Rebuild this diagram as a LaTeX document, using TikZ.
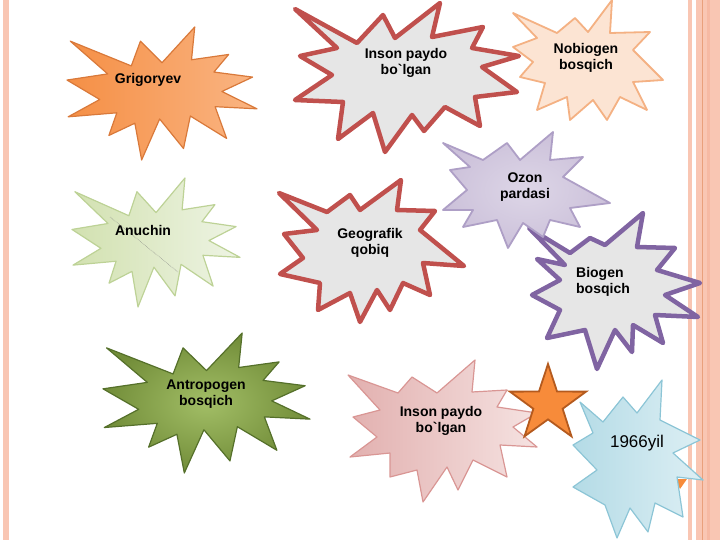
\documentclass[tikz,border=0pt]{standalone}
\usepackage{fontspec}
\setmainfont{Liberation Sans}
\usepackage{tikz}
\usetikzlibrary{shapes.geometric}

\definecolor{stripe}{HTML}{F9C6B3}
\definecolor{stripeline}{HTML}{E9A07C}
\definecolor{stripedark}{HTML}{F6B9A3}
\definecolor{sealgray}{HTML}{E6E6E6}
\definecolor{sealred}{HTML}{C0504D}
\definecolor{sealpurple}{HTML}{8064A2}
\definecolor{grigdark}{HTML}{F58F45}
\definecolor{griglight}{HTML}{FAB583}
\definecolor{grigline}{HTML}{D9793A}
\definecolor{anudark}{HTML}{D2E1B0}
\definecolor{anulight}{HTML}{EEF4E4}
\definecolor{anuline}{HTML}{BDD296}
\definecolor{antdark}{HTML}{728D39}
\definecolor{antlight}{HTML}{A2BE66}
\definecolor{antline}{HTML}{55702A}
\definecolor{nobfill}{HTML}{FCE4D3}
\definecolor{nobline}{HTML}{F4B183}
\definecolor{ozonfill}{HTML}{CCC1DA}
\definecolor{ozonlight}{HTML}{DDD6E7}
\definecolor{ozonline}{HTML}{AE9FC6}
\definecolor{pinkdark}{HTML}{E2B0AF}
\definecolor{pinklight}{HTML}{F5E2E1}
\definecolor{pinkline}{HTML}{D99694}
\definecolor{bluedark}{HTML}{B4DBE6}
\definecolor{bluelight}{HTML}{DDEFF4}
\definecolor{blueline}{HTML}{8CC5D6}
\definecolor{starfill}{HTML}{F78B3A}
\definecolor{starline}{HTML}{B45A1E}

\newcommand{\explosionpath}{(108,58) -- (145.22,0) -- (141.55,53.25) -- (183.8,44.57) -- (167.02,73.15) -- (210.97,81.37) -- (176.07,104.75) -- (216,132.9) -- (168.37,129.42) -- (181.45,180.95) -- (140.2,144.57) -- (132.47,197.37) -- (105.32,149.35) -- (84.85,216) -- (77.15,156.27) -- (47.62,176.17) -- (56.67,139.37) -- (1.35,145.87) -- (37.22,117.75) -- (0,86.15) -- (46.27,76.17) -- (3.7,22.95) -- (73.12,63.2) -- (83.52,22.95) -- cycle}

\begin{document}
\begin{tikzpicture}[x=1pt,y=-1pt]
  \tikzstyle{lbl} = [align=center, inner sep=0pt, font=\fontsize{14}{15.5}\selectfont\bfseries]
  \tikzstyle{redseal} = [fill=sealgray, draw=sealred, line width=4.5pt, line join=round]
  \tikzstyle{thinseal} = [line width=1.2pt, line join=round]

  \useasboundingbox (0,0) rectangle (720,540);

  \fill[stripe] (3,0) rectangle (9,540);
  \fill[stripe] (688,0) rectangle (692,540);
  \fill[stripe] (696,0) rectangle (720,540);
  \fill[stripedark] (707,0) rectangle (710,540);
  \fill[stripeline] (702,0) rectangle (703,540);

  \begin{scope}[shift={(67,27)}, xscale=0.8796, yscale=0.6157]
    \path[thinseal, draw=grigline, left color=grigdark, right color=griglight] \explosionpath;
  \end{scope}

  \path[thinseal, draw=nobline, fill=nobfill, line width=1.8pt]
    (513,13) -- (557,33) -- (575,18) -- (588,32) -- (612,0) -- (610,33) -- (650,32) -- (633,50)
    -- (663,80) -- (633,82) -- (647,110) -- (620,97) -- (607,120) -- (593,100) -- (570,120)
    -- (567,97) -- (537,110) -- (545,83) -- (520,77) -- (533,62) -- (513,47) -- (537,38) -- cycle;

  \path[redseal]
    (295,9) -- (357,43) -- (383,15) -- (395,38) -- (440,3) -- (432,37) -- (483,27) -- (472,48)
    -- (519,56) -- (482,67) -- (517,92) -- (475,97) -- (480,126) -- (445,107) -- (424,131)
    -- (412,115) -- (385,152) -- (373,113) -- (338,139) -- (343,102) -- (295,100) -- (332,75)
    -- (300,56) -- (337,48) -- cycle;

  \begin{scope}[shift={(72,178)}, xscale=0.7778, yscale=0.5972]
    \path[thinseal, draw=anuline, left color=anudark, right color=anulight] \explosionpath;
  \end{scope}
  \coordinate (anuA) at (110,217);
  \coordinate (anuB) at (178,272);
  \draw[gray, densely dotted, line width=0.5pt] (anuA) -- (anuB);

  \path[redseal]
    (279,193) -- (327,212) -- (350,195) -- (360,210) -- (401,180) -- (397,210) -- (435,211)
    -- (420,230) -- (464,266) -- (423,263) -- (430,295) -- (403,283) -- (390,310) -- (377,290)
    -- (360,322) -- (350,293) -- (318,310) -- (320,283) -- (280,274) -- (303,258) -- (284,234)
    -- (317,230) -- cycle;

  \path[redseal, draw=sealpurple]
    (529,228) -- (570,253) -- (590,238) -- (605,245) -- (643,213) -- (637,247) -- (675,248)
    -- (657,270) -- (700,283) -- (665,295) -- (698,317) -- (655,315) -- (663,343) -- (633,325)
    -- (632,352) -- (615,330) -- (597,369) -- (585,330) -- (547,338) -- (560,310) -- (532,295)
    -- (560,280) -- (537,259) -- (565,265) -- cycle;

  \path[thinseal, draw=ozonline, line width=1.8pt, inner color=ozonlight, outer color=ozonfill]
    (443,143) -- (483,160) -- (507,143) -- (520,160) -- (553,132) -- (550,160) -- (583,157)
    -- (563,177) -- (610,203) -- (570,208) -- (580,227) -- (550,220) -- (543,237) -- (523,223)
    -- (508,248) -- (497,220) -- (463,227) -- (473,210) -- (443,210) -- (467,190) -- (450,170)
    -- (470,167) -- cycle;

  \begin{scope}[shift={(103,333)}, xscale=0.9583, yscale=0.6481]
    \path[thinseal, draw=antline, inner color=antlight, outer color=antdark] \explosionpath;
  \end{scope}

  \path[thinseal, draw=pinkline, left color=pinkdark, right color=pinklight]
    (348,375) -- (398,393) -- (412,377) -- (437,393) -- (475,360) -- (472,392) -- (507,390)
    -- (497,407) -- (537,413) -- (513,427) -- (537,447) -- (500,445) -- (507,477) -- (473,460)
    -- (458,490) -- (447,467) -- (423,502) -- (417,470) -- (390,477) -- (390,453) -- (350,457)
    -- (377,437) -- (353,417) -- (380,410) -- cycle;

  \node[star, star points=5, star point ratio=2.6, minimum size=80pt, inner sep=0pt,
        fill=starfill, draw=starline, line width=1.8pt] (ostar) at (548,404) {};

  \fill[starfill] (675,479) -- (687,479) -- (680,489) -- cycle;

  \path[thinseal, draw=blueline, left color=bluedark, right color=bluelight]
    (580,402) -- (603,422) -- (623,397) -- (637,413) -- (662,380) -- (660,420) -- (700,440)
    -- (673,453) -- (703,480) -- (677,477) -- (683,517) -- (655,503) -- (648,532) -- (630,508)
    -- (617,538) -- (605,505) -- (573,487) -- (597,470) -- (573,445) -- (593,433) -- cycle;

  \node[lbl] (grig) at (148,80) {Grigoryev};
  \node[lbl] (inson) at (406,63) {Inson paydo\\bo\textasciigrave lgan};
  \node[lbl] (nobio) at (586,58) {Nobiogen\\bosqich};
  \node[lbl] (anu) at (143,230) {Anuchin};
  \node[lbl] (ozon) at (525,187) {Ozon\\pardasi};
  \node[lbl] (geo) at (370,243) {Geografik\\qobiq};
  \node[lbl, align=left] (bio) at (603,282) {Biogen\\bosqich};
  \node[lbl] (antro) at (206,394) {Antropogen\\bosqich};
  \node[lbl] (insonb) at (441,421) {Inson paydo\\bo\textasciigrave lgan};
  \node[inner sep=0pt, font=\fontsize{17}{20}\selectfont] (yil) at (637,443) {1966yil};
\end{tikzpicture}
\end{document}
